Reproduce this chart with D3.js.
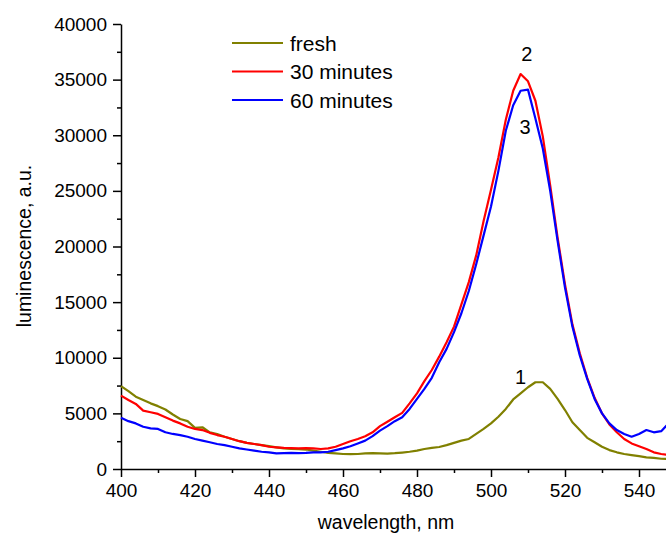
<!DOCTYPE html>
<html>
<head>
<meta charset="utf-8">
<script src="https://cdn.jsdelivr.net/npm/d3@7"></script>
<style>
  body { margin: 0; background: #fff; }
  svg { display: block; font-family: "Liberation Sans", Arial, sans-serif; }
  .axis path, .axis line { stroke: #000; stroke-width: 1.5; }
  .axis text { font-size: 19px; fill: #000; font-family: "Liberation Sans", Arial, sans-serif; }
</style>
</head>
<body>
<svg width="666" height="540"></svg>
<script>
// Wavelength grid, nm
const wavelength = d3.range(400, 549, 2);

// Luminescence, a.u.
const fresh = [
  7450, 7000, 6500, 6200, 5900, 5650, 5350, 4900, 4500, 4300,
  3700, 3750, 3300, 3150, 2900, 2700, 2500, 2350, 2250, 2150,
  2050, 1950, 1850, 1800, 1780, 1750, 1650, 1550, 1450, 1400,
  1350, 1330, 1350, 1400, 1420, 1400, 1380, 1420, 1480, 1550,
  1650, 1800, 1900, 1980, 2150, 2350, 2550, 2700, 3150, 3600,
  4100, 4700, 5400, 6250, 6800, 7350, 7800, 7800, 7200, 6300,
  5300, 4200, 3500, 2800, 2400, 2000, 1700, 1500, 1350, 1250,
  1150, 1050, 1000, 920, 900
];
const min30 = [
  6600, 6200, 5850, 5250, 5100, 4950, 4650, 4350, 4100, 3800,
  3600, 3500, 3250, 3050, 2900, 2700, 2500, 2350, 2250, 2150,
  2000, 1950, 1900, 1870, 1850, 1880, 1850, 1800, 1850, 2000,
  2250, 2500, 2700, 2950, 3300, 3850, 4250, 4650, 5050, 5900,
  6800, 7900, 8900, 10100, 11400, 12800, 14800, 16800, 19200, 22300,
  25100, 28000, 31400, 34000, 35500, 34850, 33100, 29900, 25500, 20800,
  16600, 13000, 10400, 8200, 6400, 5000, 4000, 3300, 2700, 2300,
  2050, 1800, 1500, 1350, 1250
];
const min60 = [
  4600, 4300, 4100, 3800, 3650, 3600, 3300, 3150, 3050, 2900,
  2700, 2550, 2400, 2250, 2150, 2000, 1850, 1750, 1650, 1550,
  1500, 1400, 1420, 1450, 1420, 1450, 1500, 1500, 1550, 1700,
  1850, 2050, 2300, 2550, 2950, 3450, 3850, 4300, 4650, 5400,
  6300, 7200, 8200, 9600, 10800, 12300, 14000, 16000, 18400, 21000,
  23600, 26800, 30400, 32700, 34000, 34100, 31500, 28800, 25000, 20500,
  16300, 12800, 10200, 8100, 6300, 5000, 4100, 3500, 3150, 2900,
  3150, 3500, 3300, 3400, 4100
];

const seriesNames = ["fresh", "30 minutes", "60 minutes"];
const seriesColors = ["#808000", "#ff0000", "#0000ff"];
const peakLabels = ["1", "2", "3"];

const xTicks = [400, 420, 440, 460, 480, 500, 520, 540];
const yTicks = [0, 5000, 10000, 15000, 20000, 25000, 30000, 35000, 40000];

const svg = d3.select("svg");

const x = d3.scaleLinear().domain([400, 550]).range([121, 676]);
const y = d3.scaleLinear().domain([0, 40000]).range([469, 24]);

// minor ticks
svg.append("g")
  .attr("class", "axis")
  .attr("transform", "translate(0,469)")
  .call(d3.axisBottom(x).tickValues(d3.range(410, 550, 20)).tickSize(4).tickFormat(""))
  .select(".domain").remove();
svg.append("g")
  .attr("class", "axis")
  .attr("transform", "translate(121,0)")
  .call(d3.axisLeft(y).tickValues(d3.range(2500, 40000, 5000)).tickSize(4).tickFormat(""))
  .select(".domain").remove();

// major axes
svg.append("g")
  .attr("class", "axis")
  .attr("transform", "translate(0,469)")
  .call(d3.axisBottom(x).tickValues(xTicks).tickSize(8).tickSizeOuter(0).tickPadding(7).tickFormat(d3.format("d")));
svg.append("g")
  .attr("class", "axis")
  .attr("transform", "translate(121,0)")
  .call(d3.axisLeft(y).tickValues(yTicks).tickSize(8).tickSizeOuter(0).tickPadding(6).tickFormat(d3.format("d")));

// axis titles
svg.append("text")
  .text("wavelength, nm")
  .attr("x", 386)
  .attr("y", 529)
  .attr("text-anchor", "middle")
  .style("font-size", "19.5px");

svg.append("text")
  .text("luminescence, a.u.")
  .attr("transform", "rotate(-90)")
  .attr("x", -246)
  .attr("y", 31)
  .attr("text-anchor", "middle")
  .style("font-size", "19.5px");

// curves
const line = d3.line()
  .x((d, i) => x(wavelength[i]))
  .y(d => y(d));

const plot = svg.append("g");
[fresh, min30, min60].forEach((s, i) => {
  plot.append("path")
    .datum(s)
    .attr("d", line)
    .attr("fill", "none")
    .attr("stroke", seriesColors[i])
    .attr("stroke-width", 2.2)
    .attr("stroke-linejoin", "round");
});

// curve numbers
const numbers = [
  { t: peakLabels[0], wl: 508, v: 7600 },
  { t: peakLabels[1], wl: 509.7, v: 36680 },
  { t: peakLabels[2], wl: 509.2, v: 30100 }
];
svg.selectAll("text.num")
  .data(numbers)
  .enter()
  .append("text")
  .attr("class", "num")
  .text(d => d.t)
  .attr("x", d => x(d.wl))
  .attr("y", d => y(d.v))
  .attr("text-anchor", "middle")
  .style("font-size", "20px");

// legend
const legend = svg.append("g").attr("transform", "translate(232,43)");
seriesNames.forEach((name, i) => {
  legend.append("line")
    .attr("x1", 0).attr("x2", 51)
    .attr("y1", i * 28.5).attr("y2", i * 28.5)
    .attr("stroke", seriesColors[i])
    .attr("stroke-width", 2.2);
  legend.append("text")
    .text(name)
    .attr("x", 58)
    .attr("y", i * 28.5 + 7.5)
    .style("font-size", "21px");
});
</script>
</body>
</html>
